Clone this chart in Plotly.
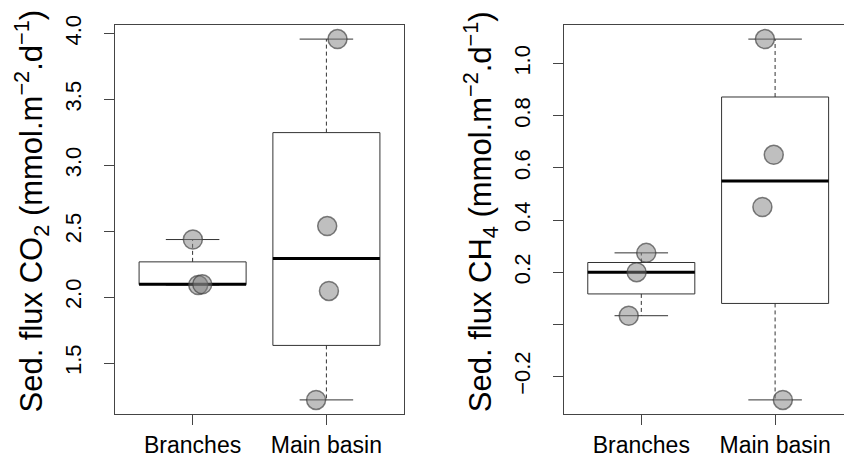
import math
import plotly.graph_objects as go

# ---------------- data ----------------
groups = ["Branches", "Main basin"]
group_pos = [1, 2]

co2_branches = [2.437, 2.092, 2.098]
co2_main = [3.958, 2.539, 2.047, 1.220]
ch4_branches = [0.274, 0.200, 0.033]
ch4_main = [1.094, 0.650, 0.450, -0.290]

# horizontal jitter of the points
co2_branches_jit = [0.002, 0.042, 0.072]
co2_main_jit = [0.083, 0.006, 0.019, -0.077]
ch4_branches_jit = [0.037, -0.035, -0.094]
ch4_main_jit = [-0.076, -0.010, -0.095, 0.058]

co2_tickvals = [1.5, 2.0, 2.5, 3.0, 3.5, 4.0]
co2_ticktext = ["1.5", "2.0", "2.5", "3.0", "3.5", "4.0"]
ch4_tickvals = [-0.2, 0.0, 0.2, 0.4, 0.6, 0.8, 1.0]
ch4_ticktext = ["\u22120.2", "", "0.2", "0.4", "0.6", "0.8", "1.0"]

co2_title = "Sed. flux CO<sub>2</sub> (mmol.m<sup>\u22122</sup>.d<sup>\u22121</sup>)"
ch4_title = "Sed. flux CH<sub>4</sub> (mmol.m<sup>\u22122</sup>.d<sup>\u22121</sup>)"

# ---------------- styling ----------------
W, H = 844, 461
FONT = "Liberation Sans, Arial, Helvetica, sans-serif"
FRAME = "#444444"
BOXC = "#333333"
BOXW = 0.8
STAPLE = 0.4
PT_FILL = "rgba(128,128,128,0.5)"
PT_LINE = "rgba(60,60,60,0.65)"


def fivenum(v):
    x = sorted(v)
    n = len(x)
    n4 = math.floor((n + 3) / 2) / 2
    d = [1, n4, (n + 1) / 2, n + 1 - n4, n]
    return [0.5 * (x[math.floor(di) - 1] + x[math.ceil(di) - 1]) for di in d]


def rng(vals):
    lo, hi = min(vals), max(vals)
    e = 0.04 * (hi - lo)
    return [lo - e, hi + e]


fig = go.Figure()


def add_panel(datasets, jits, xa, ya):
    for pos, vals, jit in zip(group_pos, datasets, jits):
        mn, q1, md, q3, mx = fivenum(vals)
        h = BOXW / 2
        s = STAPLE / 2
        line = dict(color=BOXC, width=1)
        # whiskers (dashed)
        for a, b in ((q3, mx), (q1, mn)):
            fig.add_trace(go.Scatter(x=[pos, pos], y=[a, b], mode="lines",
                                     line=dict(color=BOXC, width=1, dash="4px,3px"),
                                     xaxis=xa, yaxis=ya, showlegend=False, hoverinfo="skip"))
        # staples
        for v in (mn, mx):
            fig.add_trace(go.Scatter(x=[pos - s, pos + s], y=[v, v], mode="lines", line=line,
                                     xaxis=xa, yaxis=ya, showlegend=False, hoverinfo="skip"))
        # box
        fig.add_trace(go.Scatter(x=[pos - h, pos + h, pos + h, pos - h, pos - h],
                                 y=[q1, q1, q3, q3, q1], mode="lines", line=line,
                                 xaxis=xa, yaxis=ya, showlegend=False, hoverinfo="skip"))
        # median
        fig.add_trace(go.Scatter(x=[pos - h, pos + h], y=[md, md], mode="lines",
                                 line=dict(color="#000000", width=3),
                                 xaxis=xa, yaxis=ya, showlegend=False, hoverinfo="skip"))
    for pos, vals, jit in zip(group_pos, datasets, jits):
        fig.add_trace(go.Scatter(x=[pos + j for j in jit], y=vals, mode="markers",
                                 marker=dict(size=19, color=PT_FILL,
                                             line=dict(color=PT_LINE, width=1.5)),
                                 xaxis=xa, yaxis=ya, showlegend=False))


add_panel([co2_branches, co2_main], [co2_branches_jit, co2_main_jit], "x", "y")
add_panel([ch4_branches, ch4_main], [ch4_branches_jit, ch4_main_jit], "x2", "y2")

# pixel layout
top_px, bot_px = 15, 413.3
ydom = [(H - bot_px) / H, (H - top_px) / H]
p1_left, p1_right = 115, 404
p2_left = 563.7
xr = [0.42, 2.58]
ppu = (p1_right - p1_left) / (xr[1] - xr[0])
xr2 = [0.42, 0.42 + (W - p2_left) / ppu]

axis_common = dict(showgrid=False, zeroline=False, showline=True, linecolor=FRAME,
                   linewidth=1, ticks="outside", ticklen=10, tickcolor=FRAME, tickwidth=1)
xfont = dict(family=FONT, size=23, color="#000000")
yfont = dict(family=FONT, size=22, color="#000000")

fig.update_layout(
    width=W, height=H,
    margin=dict(l=0, r=0, t=0, b=0),
    paper_bgcolor="white", plot_bgcolor="white",
    font=dict(family=FONT),
    xaxis=dict(domain=[p1_left / W, p1_right / W], range=xr, tickvals=group_pos,
               ticktext=groups, mirror=True, anchor="y", tickfont=xfont, **axis_common),
    yaxis=dict(domain=ydom, range=rng(co2_branches + co2_main), tickvals=co2_tickvals,
               ticktext=co2_ticktext, tickangle=-90, mirror=True, anchor="x",
               tickfont=yfont, ticklabelstandoff=14, **axis_common),
    xaxis2=dict(domain=[p2_left / W, 1.0], range=xr2, tickvals=group_pos,
                ticktext=groups, mirror=True, anchor="y2", tickfont=xfont, **axis_common),
    yaxis2=dict(domain=ydom, range=rng(ch4_branches + ch4_main), tickvals=ch4_tickvals,
                ticktext=ch4_ticktext, tickangle=-90, mirror=False, anchor="x2",
                tickfont=yfont, ticklabelstandoff=14, **axis_common),
)

title_px = 206
for xpx, txt in ((p1_left - 83, co2_title), (p2_left - 83, ch4_title)):
    fig.add_annotation(text=txt, xref="paper", yref="paper", x=xpx / W, y=(H - title_px) / H,
                       xanchor="center", yanchor="middle", textangle=-90, showarrow=False,
                       font=dict(family=FONT, size=31, color="#000000"))

fig.write_html("out.html")
